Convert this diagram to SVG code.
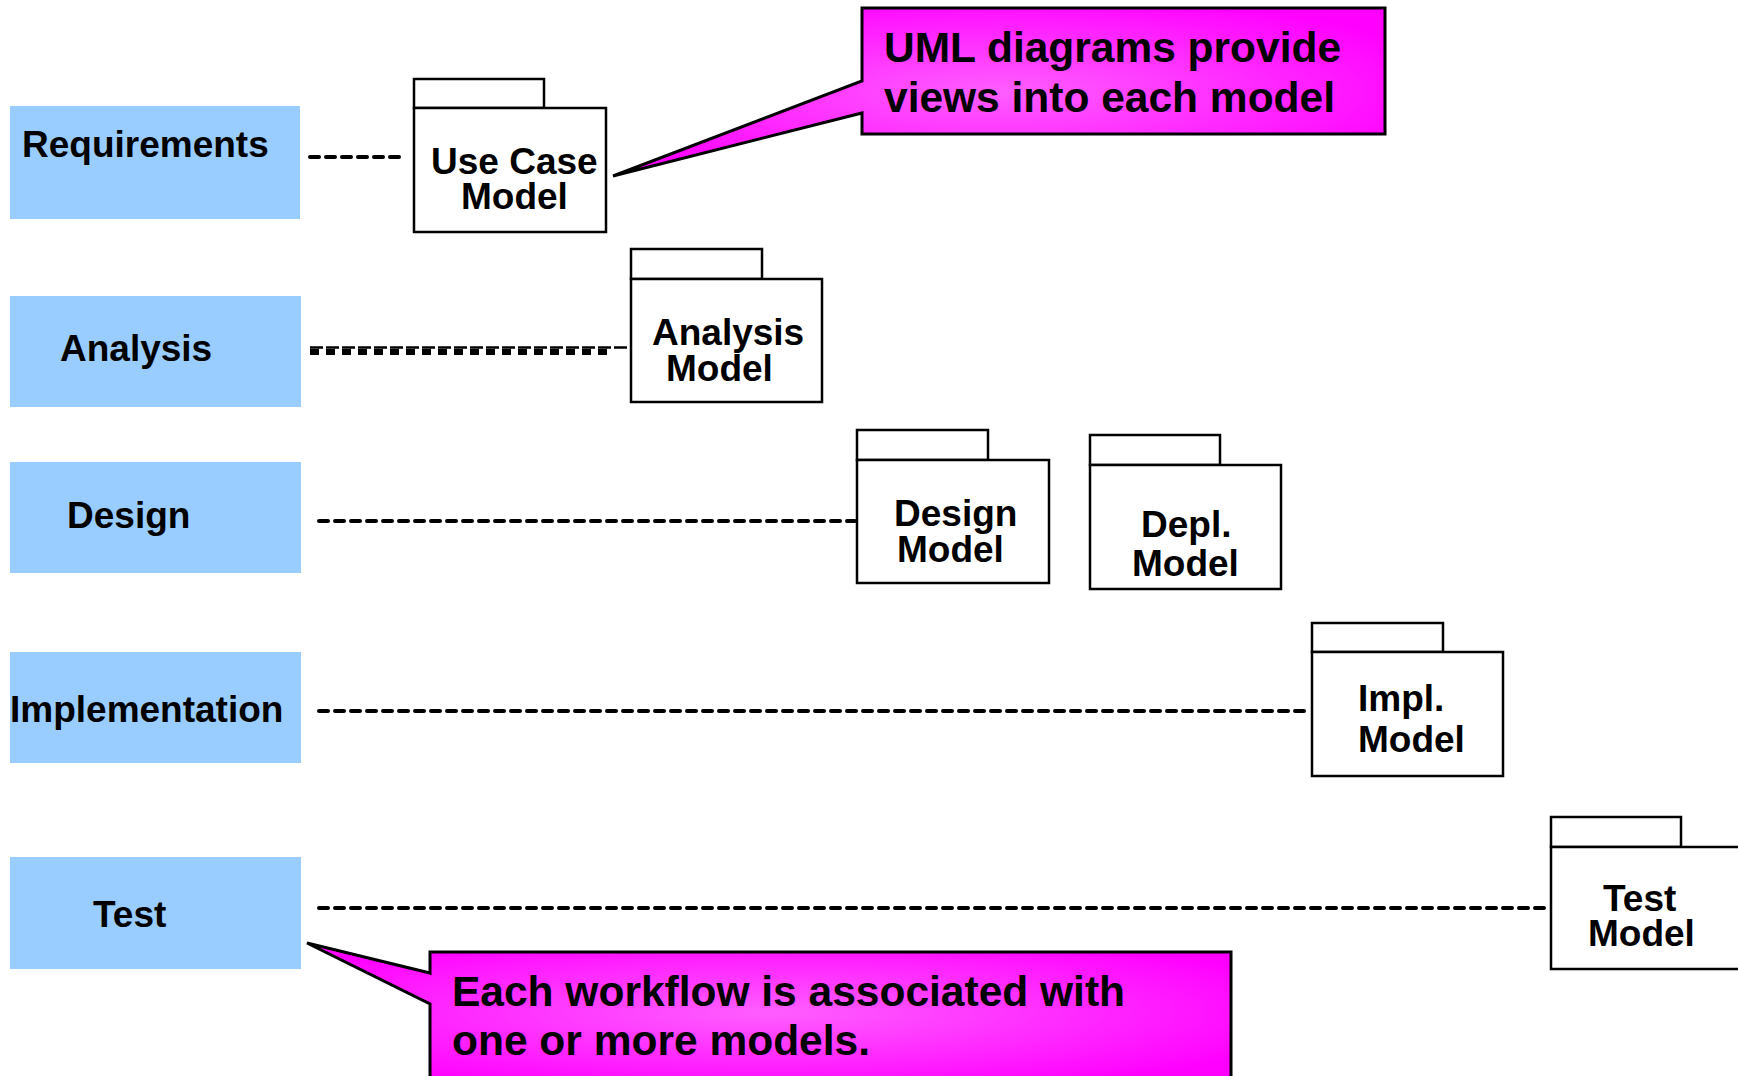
<svg xmlns="http://www.w3.org/2000/svg" width="1738" height="1076" viewBox="0 0 1738 1076">
  <defs>
    <radialGradient id="pink" cx="0.5" cy="0.5" r="0.6">
      <stop offset="0" stop-color="#ff5eff"/>
      <stop offset="1" stop-color="#ff00ff"/>
    </radialGradient>
  </defs>
  <style>
    .wf { fill: #99ccff; }
    .wft { font-family: "Liberation Sans", Arial, sans-serif; font-weight: bold; font-size: 37px; fill: #000; }
    .pkg { fill: #fff; stroke: #000; stroke-width: 2.5; }
    .pkt { font-family: "Liberation Sans", Arial, sans-serif; font-weight: bold; font-size: 37px; fill: #000; }
    .dash { stroke: #000; stroke-width: 4; stroke-dasharray: 9 7; stroke-linecap: round; fill: none; }
    .callout { fill: url(#pink); stroke: #000; stroke-width: 3; stroke-linejoin: miter; }
    .ct { font-family: "Liberation Sans", Arial, sans-serif; font-weight: bold; font-size: 42px; fill: #000; }
  </style>
  <rect width="1738" height="1076" fill="#fff"/>

  <g id="connectors">
    <line class="dash" x1="310" y1="157" x2="402" y2="157"/>
    <line x1="310" y1="352" x2="613" y2="352" stroke="#000" stroke-width="6" stroke-dasharray="9 7"/>
    <line x1="310" y1="347.5" x2="640" y2="347.5" stroke="#000" stroke-width="2.5" stroke-dasharray="13 3"/>
    <line class="dash" x1="319" y1="521" x2="855" y2="521"/>
    <line class="dash" x1="319" y1="711" x2="1310" y2="711"/>
    <line class="dash" x1="319" y1="908" x2="1549" y2="908"/>
  </g>

  <g id="wf-requirements">
    <rect class="wf" x="10" y="106" width="290" height="113"/>
    <text class="wft" x="22" y="157">Requirements</text>
  </g>
  <g id="wf-analysis">
    <rect class="wf" x="10" y="296" width="291" height="111"/>
    <text class="wft" x="60" y="361">Analysis</text>
  </g>
  <g id="wf-design">
    <rect class="wf" x="10" y="462" width="291" height="111"/>
    <text class="wft" x="67" y="528">Design</text>
  </g>
  <g id="wf-implementation">
    <rect class="wf" x="10" y="652" width="291" height="111"/>
    <text class="wft" x="10" y="722">Implementation</text>
  </g>
  <g id="wf-test">
    <rect class="wf" x="10" y="857" width="291" height="112"/>
    <text class="wft" x="93" y="927">Test</text>
  </g>

  <g id="pkg-usecase">
    <rect class="pkg" x="414" y="79" width="130" height="29"/>
    <rect class="pkg" x="414" y="108" width="192" height="124"/>
    <text class="pkt" x="431" y="174">Use Case</text>
    <text class="pkt" x="461" y="209">Model</text>
  </g>
  <g id="pkg-analysis">
    <rect class="pkg" x="631" y="249" width="131" height="30"/>
    <rect class="pkg" x="631" y="279" width="191" height="123"/>
    <text class="pkt" x="652" y="345">Analysis</text>
    <text class="pkt" x="666" y="381">Model</text>
  </g>
  <g id="pkg-design">
    <rect class="pkg" x="857" y="430" width="131" height="30"/>
    <rect class="pkg" x="857" y="460" width="192" height="123"/>
    <text class="pkt" x="894" y="526">Design</text>
    <text class="pkt" x="897" y="562">Model</text>
  </g>
  <g id="pkg-deployment">
    <rect class="pkg" x="1090" y="435" width="130" height="30"/>
    <rect class="pkg" x="1090" y="465" width="191" height="124"/>
    <text class="pkt" x="1141" y="537">Depl.</text>
    <text class="pkt" x="1132" y="576">Model</text>
  </g>
  <g id="pkg-implementation">
    <rect class="pkg" x="1312" y="623" width="131" height="29"/>
    <rect class="pkg" x="1312" y="652" width="191" height="124"/>
    <text class="pkt" x="1358" y="711">Impl.</text>
    <text class="pkt" x="1358" y="752">Model</text>
  </g>
  <g id="pkg-test">
    <rect class="pkg" x="1551" y="817" width="130" height="30"/>
    <rect class="pkg" x="1551" y="847" width="200" height="122"/>
    <text class="pkt" x="1603" y="911">Test</text>
    <text class="pkt" x="1588" y="946">Model</text>
  </g>

  <g id="callout-uml">
    <path class="callout" d="M862,8 H1385 V134 H862 V113 L613,176 L862,81 Z"/>
    <text class="ct" x="884" y="62" textLength="457" lengthAdjust="spacingAndGlyphs">UML diagrams provide</text>
    <text class="ct" x="884" y="112" textLength="451" lengthAdjust="spacingAndGlyphs">views into each model</text>
  </g>
  <g id="callout-workflow">
    <path class="callout" d="M430,952 H1231 V1082 H430 V1004 L307,943 L430,973 Z"/>
    <text class="ct" x="452" y="1006" textLength="673" lengthAdjust="spacingAndGlyphs">Each workflow is associated with</text>
    <text class="ct" x="452" y="1055" textLength="418" lengthAdjust="spacingAndGlyphs">one or more models.</text>
  </g>
</svg>
